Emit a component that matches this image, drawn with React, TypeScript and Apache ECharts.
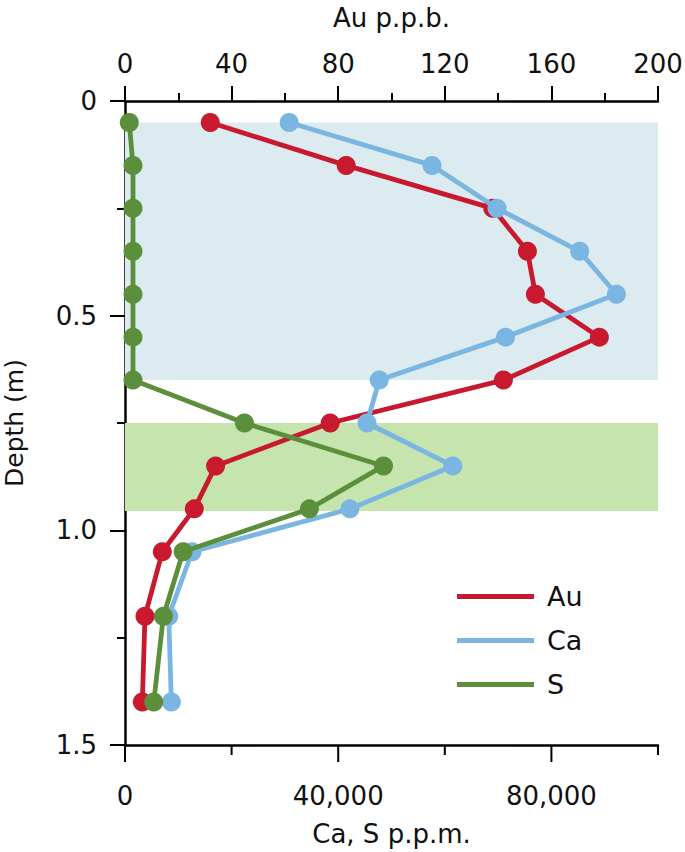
import React, { useEffect, useRef } from "react";
import * as echarts from "echarts";

const depthM = [0.05, 0.15, 0.25, 0.35, 0.45, 0.55, 0.65, 0.75, 0.85, 0.95, 1.05, 1.2, 1.4];
const auPpb = [32, 83, 138, 151, 154, 178, 142, 77, 34, 26, 14, 7.5, 6.5];
const caPpm = [30800, 57600, 69800, 85300, 92200, 71400, 47700, 45400, 61500, 42200, 12600, 8200, 8700];
const sPpm = [800, 1500, 1500, 1500, 1500, 1500, 1500, 22400, 48500, 34600, 10900, 7200, 5400];

const ppmMax = 100000;
const ppmMajorTicks = [0, 40000, 80000];
const ppmMinorTicks = [20000, 60000, 100000];
const depthMax = 1.5;
const upperZone = [0.05, 0.65];
const lowerZone = [0.75, 0.955];

const FONT = "DejaVu Sans";
const RED = "#c8192f";
const BLUE = "#7ab6e1";
const GREEN = "#5b8f3b";

export default function App() {
  const ref = useRef<HTMLDivElement>(null);
  useEffect(() => {
    if (!ref.current) return;
    const chart = echarts.init(ref.current, null, { renderer: "svg" });
    const axisLine = { show: true, onZero: false, lineStyle: { color: "#000", width: 2.5 } };
    const tickLine = { color: "#000", width: 2 };
    const label = { color: "#111", fontSize: 26, fontFamily: FONT };
    const nameStyle = { color: "#111", fontSize: 26, fontFamily: FONT };
    const pair = (xs: number[]) => xs.map((v, i) => [v, depthM[i]]);
    chart.setOption({
      animation: false,
      grid: { left: 125, right: 27, top: 101, bottom: 107, outerBoundsMode: "none" },
      xAxis: [
        {
          type: "value",
          position: "bottom",
          min: 0,
          max: ppmMax,
          axisLine,
          axisTick: { show: false },
          axisLabel: {
            ...label,
            customValues: ppmMajorTicks.slice(),
            margin: 38,
            formatter: (v: number) => v.toLocaleString("en-US"),
          },
          splitLine: { show: false },
          name: "Ca, S p.p.m.",
          nameLocation: "middle",
          nameGap: 76,
          nameTextStyle: nameStyle,
        },
        {
          type: "value",
          position: "top",
          min: 0,
          max: 200,
          interval: 40,
          axisLine,
          axisTick: { show: true, length: 15, lineStyle: tickLine },
          minorTick: { show: true, splitNumber: 2, length: 8, lineStyle: tickLine },
          axisLabel: { ...label, margin: 24 },
          splitLine: { show: false },
          minorSplitLine: { show: false },
          name: "Au p.p.b.",
          nameLocation: "middle",
          nameGap: 70,
          nameTextStyle: { ...nameStyle, fontSize: 26 },
        },
      ],
      yAxis: {
        type: "value",
        inverse: true,
        min: 0,
        max: depthMax,
        interval: 0.5,
        axisLine,
        axisTick: { show: true, length: 15, lineStyle: tickLine },
        minorTick: { show: true, splitNumber: 2, length: 8, lineStyle: tickLine },
        axisLabel: {
          ...label,
          margin: 28,
          formatter: (v: number) => (v === 0 ? "0" : v.toFixed(1)),
        },
        splitLine: { show: false },
        minorSplitLine: { show: false },
        name: "Depth (m)",
        nameLocation: "middle",
        nameGap: 98,
        nameRotate: 90,
        nameTextStyle: { ...nameStyle, fontSize: 25 },
      },
      legend: {
        orient: "vertical",
        left: 452,
        top: 578,
        itemWidth: 77,
        itemHeight: 5,
        itemGap: 17,
        icon: "rect",
        data: ["Au", "Ca", "S"],
        textStyle: { color: "#111", fontSize: 27, fontFamily: FONT, padding: [0, 0, 0, 8] },
      },
      series: [
        {
          name: "Au",
          type: "line",
          xAxisIndex: 1,
          data: pair(auPpb),
          symbol: "circle",
          symbolSize: 19,
          lineStyle: { color: RED, width: 4.8 },
          itemStyle: { color: RED },
          z: 3,
          markArea: {
            silent: true,
            z: 1,
            data: [
              [{ yAxis: upperZone[0], itemStyle: { color: "#dcebef" } }, { yAxis: upperZone[1] }],
              [{ yAxis: lowerZone[0], itemStyle: { color: "#c6e4ae" } }, { yAxis: lowerZone[1] }],
            ],
          },
        },
        {
          name: "Ca",
          type: "line",
          xAxisIndex: 0,
          data: pair(caPpm),
          symbol: "circle",
          symbolSize: 19,
          lineStyle: { color: BLUE, width: 4.8 },
          itemStyle: { color: BLUE },
          z: 4,
        },
        {
          name: "S",
          type: "line",
          xAxisIndex: 0,
          data: pair(sPpm),
          symbol: "circle",
          symbolSize: 19,
          lineStyle: { color: GREEN, width: 4.8 },
          itemStyle: { color: GREEN },
          z: 5,
        },
      ],
    });

    // bottom-axis ticks (major and minor) placed through the Ca/S axis scale
    const yBottom = chart.convertToPixel({ yAxisIndex: 0 }, depthMax) as number;
    const tick = (v: number, len: number) => {
      const x = chart.convertToPixel({ xAxisIndex: 0 }, v) as number;
      return {
        type: "line",
        silent: true,
        z: 50,
        shape: { x1: x, y1: yBottom, x2: x, y2: yBottom + len },
        style: { stroke: "#000", lineWidth: 2 },
      };
    };
    chart.setOption({
      graphic: [
        ...ppmMajorTicks.map((v) => tick(v, 17)),
        ...ppmMinorTicks.map((v) => tick(v, 10)),
      ],
    });
    return () => chart.dispose();
  }, []);
  return (
    <div
      ref={ref}
      style={{ position: "absolute", left: 0, top: 0, width: 685, height: 852 }}
    />
  );
}
